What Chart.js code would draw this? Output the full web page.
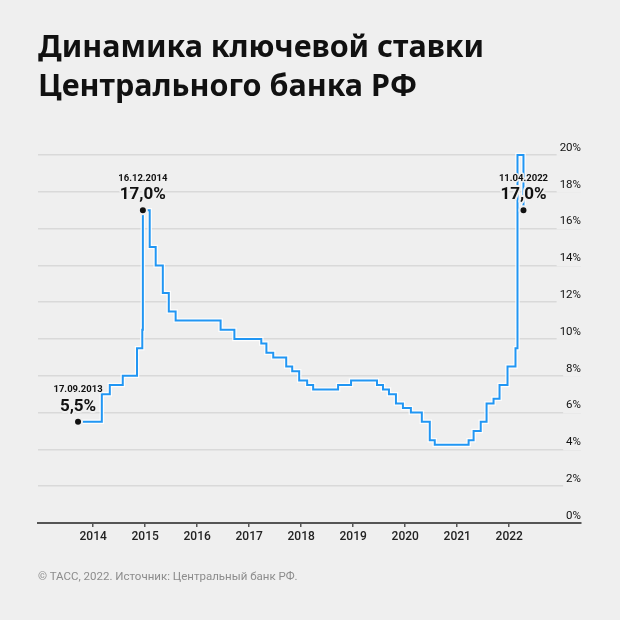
<!DOCTYPE html>
<html lang="ru">
<head>
<meta charset="utf-8">
<title>Динамика ключевой ставки</title>
<script src="https://cdn.jsdelivr.net/npm/chart.js@4.4.1/dist/chart.umd.min.js"></script>
<style>
    html, body {
        margin: 0;
        padding: 0;
        background: #efefef;
    }
    #wrap {
        position: relative;
        width: 620px;
        height: 620px;
        overflow: hidden;
        font-family: Roboto, "Noto Sans", sans-serif;
    }
    #title {
        position: absolute;
        left: 38px;
        top: 26px;
        margin: 0;
        font-family: "Noto Sans", Roboto, sans-serif;
        font-size: 30.5px;
        line-height: 39px;
        font-weight: 700;
        color: #111;
        white-space: nowrap;
    }
    #source {
        position: absolute;
        left: 38px;
        top: 569px;
        font-size: 11.5px;
        line-height: 14px;
        color: #8c8c8c;
    }
    #chart {
        position: absolute;
        left: 0;
        top: 0;
    }
</style>
</head>
<body>
<div id="wrap">
    <canvas id="chart" width="620" height="620"></canvas>
    <h1 id="title">Динамика ключевой ставки<br>Центрального банка РФ</h1>
    <div id="source">© ТАСС, 2022. Источник: Центральный банк РФ.</div>
</div>
<script>
// ==================== DATA ====================

// Date from which each key rate applied
const rateDates = [
    '2013-09-17', '2014-03-03', '2014-04-28', '2014-07-28', '2014-11-05',
    '2014-12-12', '2014-12-16', '2015-02-02', '2015-03-16', '2015-05-05',
    '2015-06-16', '2015-08-03', '2016-06-14', '2016-09-19', '2017-03-27',
    '2017-05-02', '2017-06-19', '2017-09-18', '2017-10-30', '2017-12-18',
    '2018-02-12', '2018-03-26', '2018-09-17', '2018-12-17', '2019-06-17',
    '2019-07-29', '2019-09-09', '2019-10-28', '2019-12-16', '2020-02-10',
    '2020-04-27', '2020-06-22', '2020-07-27', '2021-03-22', '2021-04-26',
    '2021-06-15', '2021-07-26', '2021-09-13', '2021-10-25', '2021-12-20',
    '2022-02-14', '2022-02-28', '2022-04-11'
];

// Key rate, %
const rateValues = [
    5.5, 7.0, 7.5, 8.0, 9.5,
    10.5, 17.0, 15.0, 14.0, 12.5,
    11.5, 11.0, 10.5, 10.0, 9.75,
    9.25, 9.0, 8.5, 8.25, 7.75,
    7.5, 7.25, 7.5, 7.75, 7.5,
    7.25, 7.0, 6.5, 6.25, 6.0,
    5.5, 4.5, 4.25, 4.5, 5.0,
    5.5, 6.5, 6.75, 7.5, 8.5,
    9.5, 20.0, 17.0
];

// Marked points
const noteDates = ['2013-09-17', '2014-12-16', '2022-04-11'];
const noteValues = [5.5, 17.0, 17.0];
const noteDateLabels = ['17.09.2013', '16.12.2014', '11.04.2022'];
const noteValueLabels = ['5,5%', '17,0%', '17,0%'];

// Axes
const yearTicks = [2014, 2015, 2016, 2017, 2018, 2019, 2020, 2021, 2022];
const xRange = [2012.94, 2023.38];
const yTicks = [0, 2, 4, 6, 8, 10, 12, 14, 16, 18, 20];

// ==================== HELPERS ====================

const BG = '#efefef';
const BLUE = '#2196f3';

// "2014-12-16" -> fractional year
function toYear(iso) {
    const [y, m, d] = iso.split('-').map(Number);
    const start = Date.UTC(y, 0, 1);
    const end = Date.UTC(y + 1, 0, 1);
    return y + (Date.UTC(y, m - 1, d) - start) / (end - start);
}

const ratePoints = rateDates.map((d, i) => ({ x: toYear(d), y: rateValues[i] }));
const notePoints = noteDates.map((d, i) => ({ x: toYear(d), y: noteValues[i] }));

// ==================== ANNOTATIONS ====================

const notesPlugin = {
    id: 'notes',
    afterDatasetsDraw(chart) {
        const ctx = chart.ctx;
        const xs = chart.scales.x;
        const ys = chart.scales.y;
        ctx.save();
        ctx.textAlign = 'center';
        ctx.textBaseline = 'middle';
        ctx.lineJoin = 'round';
        ctx.strokeStyle = BG;
        ctx.fillStyle = '#111';
        notePoints.forEach((p, i) => {
            const px = xs.getPixelForValue(p.x);
            const py = ys.getPixelForValue(p.y);

            ctx.font = 'bold 9.5px Roboto';
            ctx.lineWidth = 3;
            ctx.strokeText(noteDateLabels[i], px, py - 32);
            ctx.fillText(noteDateLabels[i], px, py - 32);

            ctx.font = 'bold 17px Roboto';
            ctx.lineWidth = 4;
            ctx.strokeText(noteValueLabels[i], px, py - 15);
            ctx.fillText(noteValueLabels[i], px, py - 15);
        });
        ctx.restore();
    }
};

// ==================== CHART ====================

const chart = new Chart(document.getElementById('chart'), {
    type: 'line',
    data: {
        datasets: [
            {
                type: 'scatter',
                data: notePoints,
                pointRadius: 4,
                pointBackgroundColor: '#111',
                pointBorderColor: BG,
                pointBorderWidth: 2,
                clip: false,
                order: 0
            },
            {
                data: ratePoints,
                borderColor: BLUE,
                borderWidth: 2,
                stepped: 'before',
                pointRadius: 0,
                fill: false,
                clip: false,
                order: 1
            },
            {
                // light halo under the line
                data: ratePoints,
                borderColor: 'rgba(255, 255, 255, 0.85)',
                borderWidth: 4.5,
                stepped: 'before',
                pointRadius: 0,
                fill: false,
                clip: false,
                order: 2
            }
        ]
    },
    options: {
        responsive: false,
        animation: false,
        events: [],
        layout: {
            padding: { left: 38, right: 39, top: 155, bottom: 67 }
        },
        plugins: {
            legend: { display: false },
            tooltip: { enabled: false },
            title: { display: false }
        },
        scales: {
            x: {
                type: 'linear',
                min: xRange[0],
                max: xRange[1],
                afterBuildTicks(scale) {
                    scale.ticks = yearTicks.map(v => ({ value: v }));
                },
                afterFit(scale) {
                    scale.height = 30;
                },
                ticks: {
                    callback: v => String(v),
                    color: '#222',
                    font: { family: 'Roboto', size: 12, weight: 500 },
                    padding: 3,
                    maxRotation: 0,
                    autoSkip: false
                },
                grid: {
                    drawOnChartArea: false,
                    drawTicks: true,
                    tickLength: 4,
                    color: '#555',
                    lineWidth: 1.5
                },
                border: {
                    display: true,
                    color: '#555',
                    width: 2,
                    z: 1
                }
            },
            y: {
                position: 'right',
                min: 0,
                max: 20,
                afterBuildTicks(scale) {
                    scale.ticks = yTicks.map(v => ({ value: v }));
                },
                afterFit(scale) {
                    scale.width = 0;
                },
                ticks: {
                    mirror: true,
                    padding: 0,
                    labelOffset: -7,
                    callback: v => v + '%',
                    color: '#111',
                    font: { family: 'Roboto', size: 11.5 },
                    showLabelBackdrop: true,
                    backdropColor: BG,
                    backdropPadding: { top: 1, bottom: 1, left: 3, right: 0 }
                },
                grid: {
                    color: '#d9d9d9',
                    lineWidth: 1.5,
                    drawTicks: false
                },
                border: { display: false }
            }
        }
    },
    plugins: [notesPlugin]
});
</script>
</body>
</html>
